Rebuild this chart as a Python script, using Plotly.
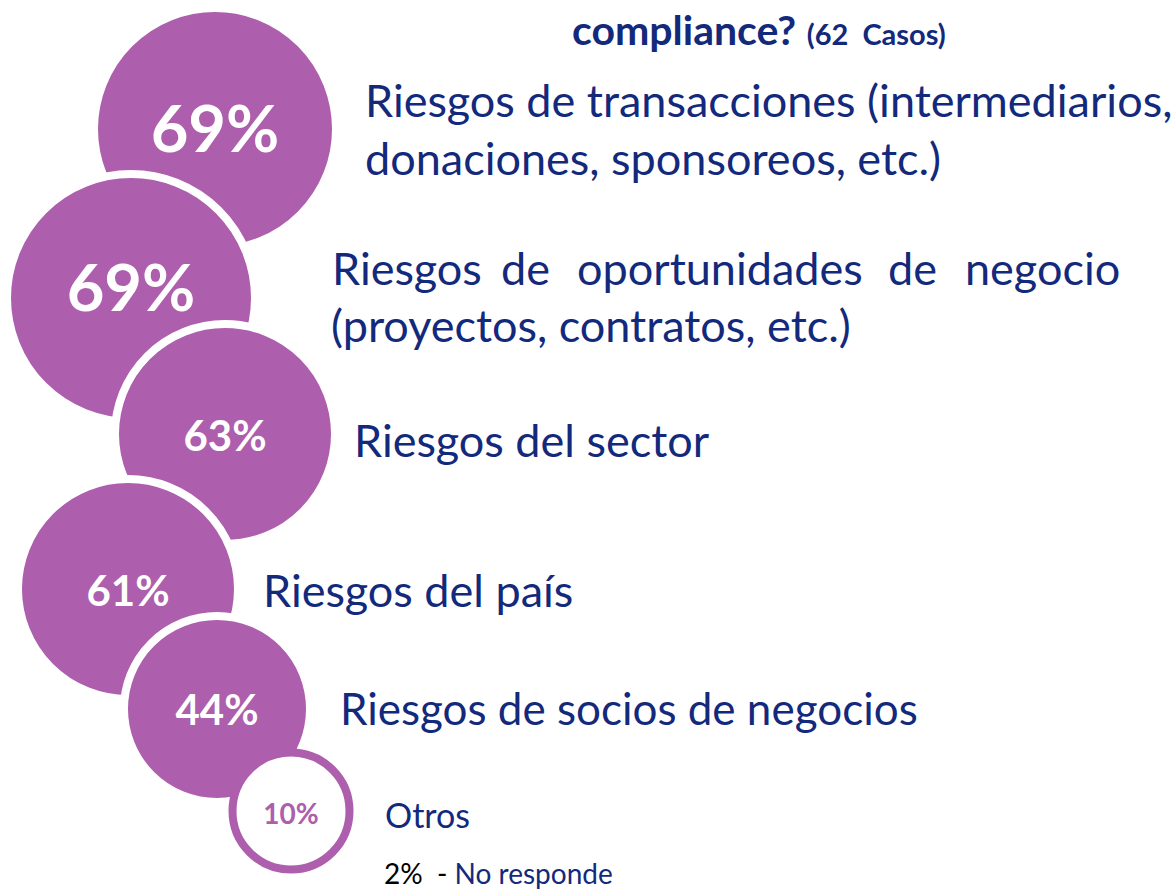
import plotly.graph_objects as go

# ---- data ----
values = [69, 69, 63, 61, 44, 10]
categories = [
    "Riesgos de transacciones (intermediarios,|donaciones, sponsoreos, etc.)",
    "Riesgos de oportunidades de negocio|(proyectos, contratos, etc.)",
    "Riesgos del sector",
    "Riesgos del país",
    "Riesgos de socios de negocios",
    "Otros",
]
no_response = 2
n_cases = 62
title_tail = "compliance?"

# ---- layout constants (pixel space) ----
W, H = 1174, 890
PURPLE = "#AD5EAD"
NAVY = "#13297B"
FONT = "Lato"

cx = [215, 131, 225, 128, 217, 291]
cy = [129, 298, 434, 589, 709, 811]
text_dy = [7, -3, 6, 6, 5, 6]
diam = [242, 248, 220, 220, 186, 117]
pct_size = [65, 65, 42, 42, 42, 28]
fill = [PURPLE] * 5 + ["white"]
line_col = ["white"] * 5 + [PURPLE]
txt_col = ["white"] * 5 + [PURPLE]

fig = go.Figure()
fig.add_trace(go.Scatter(
    x=cx, y=cy, mode="markers",
    marker=dict(size=diam, color=fill, line=dict(color=line_col, width=8), opacity=1),
    cliponaxis=False, hoverinfo="skip", showlegend=False,
))
fig.add_trace(go.Scatter(
    x=cx, y=[c + d for c, d in zip(cy, text_dy)], mode="text",
    text=[f"<b>{v}%</b>" for v in values],
    textposition="middle center",
    textfont=dict(family=FONT, size=pct_size, color=txt_col),
    cliponaxis=False, hoverinfo="skip", showlegend=False,
))

ann = []
def add(text, x, y, size, color=NAVY, xanchor="left"):
    ann.append(dict(text=text, x=x, y=y, xref="x", yref="y", xanchor=xanchor,
                    yanchor="middle", showarrow=False,
                    font=dict(family=FONT, size=size, color=color)))

LBL = 45
# label 1
l1a, l1b = categories[0].split("|")
add(l1a, 363, 100, LBL)
add(l1b, 363, 158, LBL)
# label 2 (justified first line)
l2a, l2b = categories[1].split("|")
words = l2a.split(" ")
word_x = [330, 499, 575, 886, 963]
for w, x in zip(words, word_x):
    add(w, x, 268, LBL)
add(l2b, 329, 325, LBL)
add(categories[2], 352, 440, LBL)
add(categories[3], 261, 590, LBL)
add(categories[4], 338, 708, 44)
add(categories[5], 383, 814, 34)
add(f"<span style='color:black'>{no_response}%&nbsp;&nbsp;-</span> No responde", 382, 873, 28)
# title
add(f"<b>{title_tail}</b> <b><span style='font-size:29px'>({n_cases}&nbsp;&nbsp;Casos)</span></b>",
    570, 29, 41)

fig.update_layout(
    width=W, height=H, margin=dict(l=0, r=0, t=0, b=0),
    paper_bgcolor="white", plot_bgcolor="white",
    xaxis=dict(range=[0, W], visible=False, fixedrange=True),
    yaxis=dict(range=[H, 0], visible=False, fixedrange=True),
    annotations=ann,
)
fig.write_html("out.html", config={"displayModeBar": False},
               post_script="document.body.style.margin='0';document.body.style.overflow='hidden';")
